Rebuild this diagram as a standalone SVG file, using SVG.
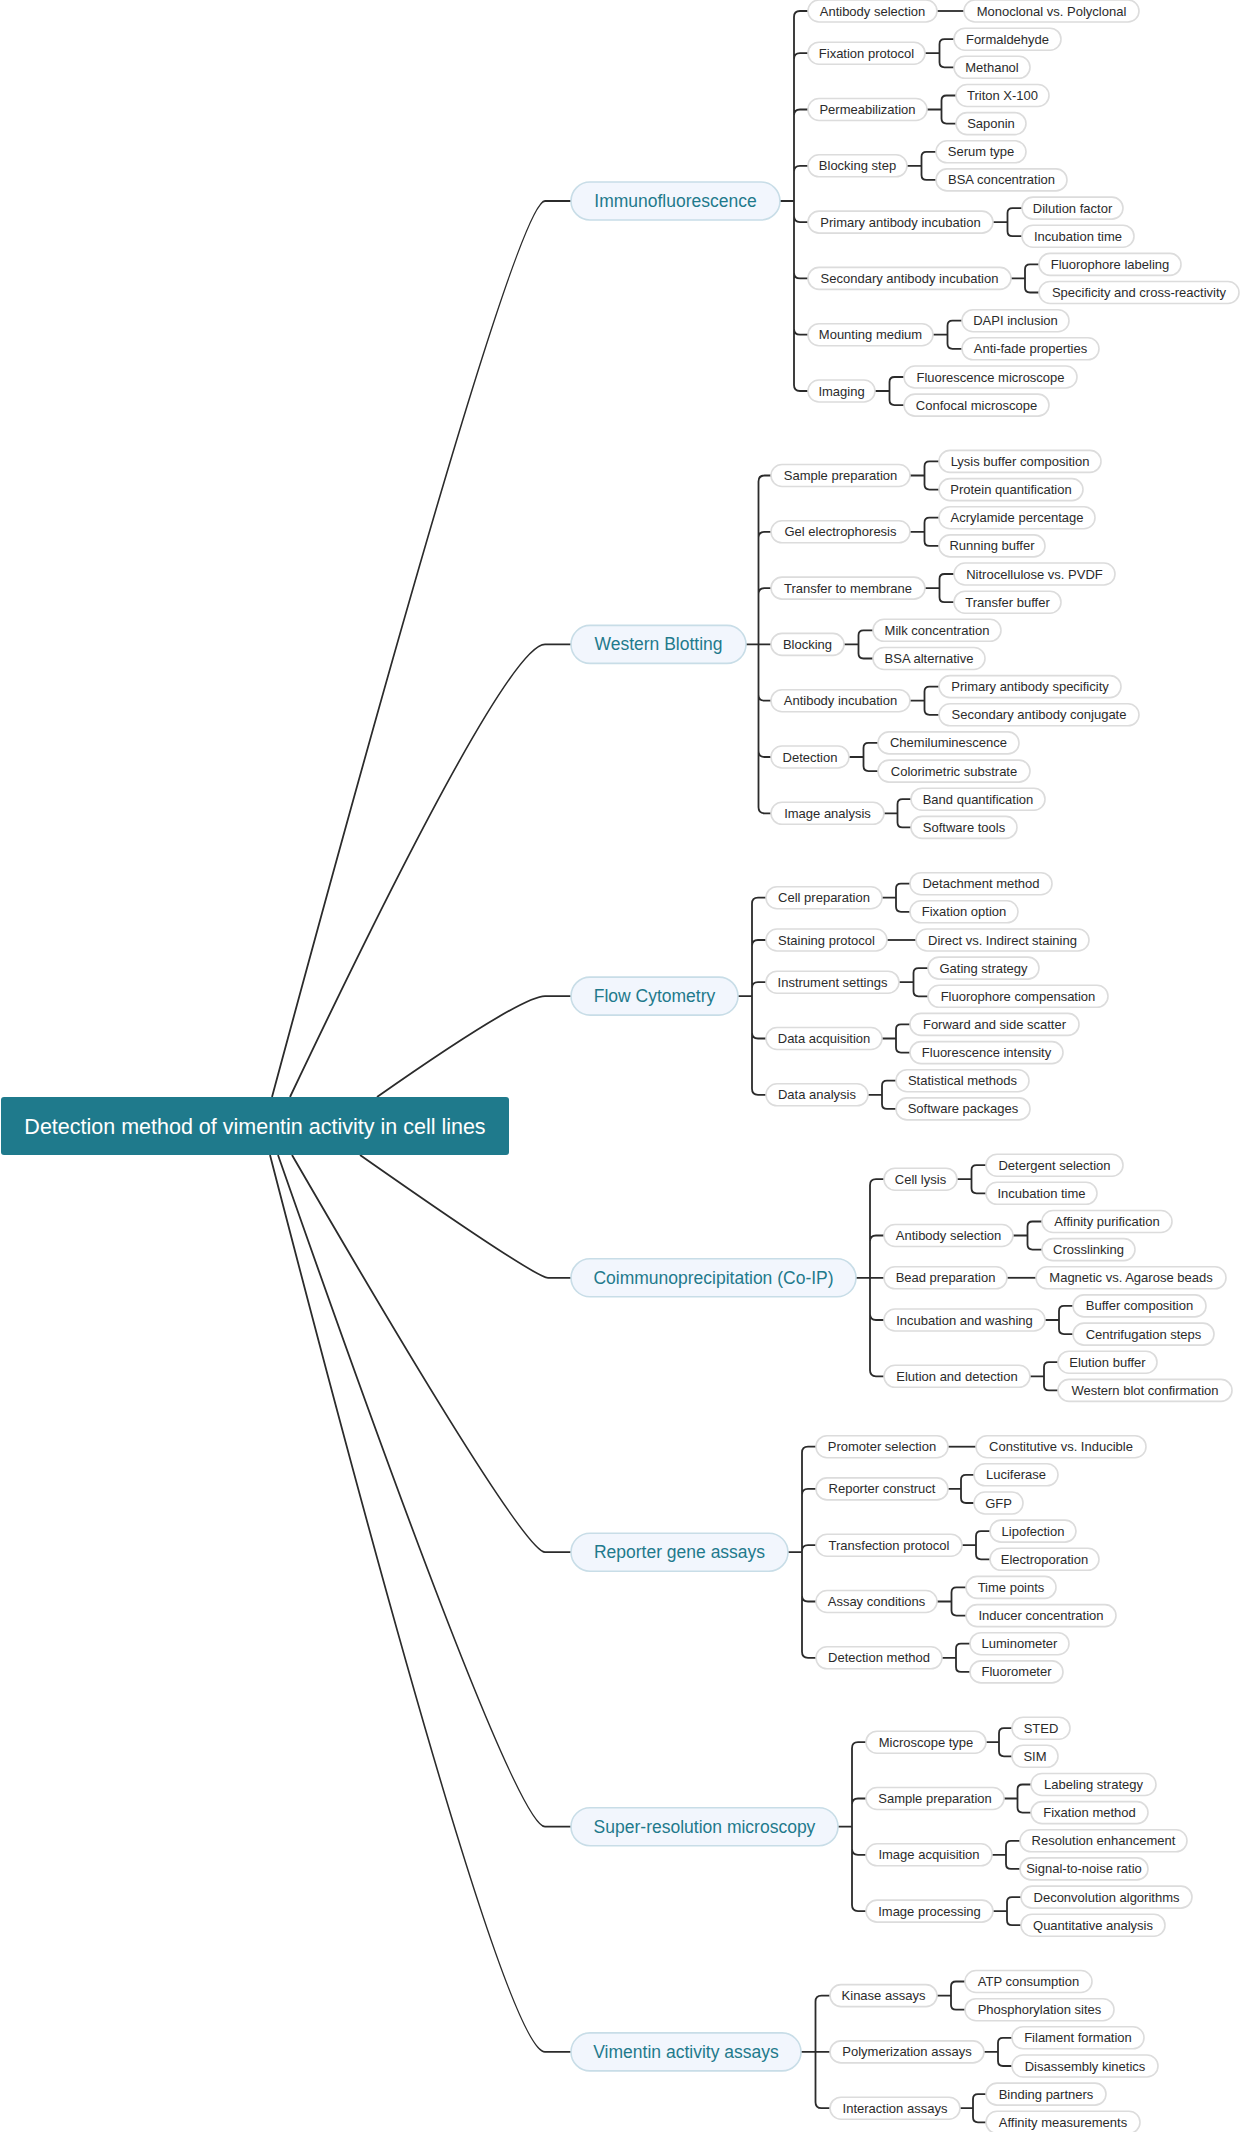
<svg xmlns="http://www.w3.org/2000/svg" width="1240" height="2132" viewBox="0 0 1240 2132">
<style>
text{font-family:"Liberation Sans",Arial,Helvetica,sans-serif;text-anchor:middle}
.c path{fill:none;stroke:#2b2b2b;stroke-width:1.8}
.root rect{fill:#1f7a8c}
.root text{fill:#fff;font-size:21.5px}
.l1 rect{fill:#f2f6fd;stroke:#c8dde7;stroke-width:1.6}
.l1 text{fill:#1f7a8c;font-size:17.5px}
.n rect{fill:#fff;stroke:#dcdcdc;stroke-width:1.6}
.n text{fill:#2b2b2b;font-size:13px}
</style>
<rect width="1240" height="2132" fill="#fff"/>
<g class="c" id="connectors">
<path d="M272,1097 Q514,201 545,201 L571,201"/>
<path d="M290,1097 Q505,644.4 545,644.4 L571,644.4"/>
<path d="M377,1097 Q521,996.1 545,996.1 L571,996.1"/>
<path d="M360,1155 Q535,1277.8 548,1277.8 L571,1277.8"/>
<path d="M292,1155 Q522,1552.2 545,1552.2 L571,1552.2"/>
<path d="M278,1155 Q513,1826.7 545,1826.7 L571,1826.7"/>
<path d="M270,1155 Q502,2051.9 545,2051.9 L571,2051.9"/>
<path d="M780,201H794 M794,201V17Q794,11 800,11H808 M794,201V59.2Q794,53.2 800,53.2H808 M794,201V115.5Q794,109.5 800,109.5H808 M794,201V171.8Q794,165.8 800,165.8H808 M794,201V216.1Q794,222.1 800,222.1H808 M794,201V272.4Q794,278.4 800,278.4H808 M794,201V328.7Q794,334.7 800,334.7H808 M794,201V385Q794,391 800,391H808"/>
<path d="M746,644.4H771 M758.5,644.4V481.5Q758.5,475.5 764.5,475.5H771 M758.5,644.4V537.8Q758.5,531.8 764.5,531.8H771 M758.5,644.4V594.1Q758.5,588.1 764.5,588.1H771 M758.5,644.4V694.7Q758.5,700.7 764.5,700.7H771 M758.5,644.4V751Q758.5,757 764.5,757H771 M758.5,644.4V807.3Q758.5,813.3 764.5,813.3H771"/>
<path d="M738,996.1H752 M752,996.1V903.7Q752,897.7 758,897.7H766 M752,996.1V946Q752,940 758,940H766 M752,996.1V988.2Q752,982.2 758,982.2H766 M752,996.1V1032.5Q752,1038.5 758,1038.5H766 M752,996.1V1088.8Q752,1094.8 758,1094.8H766"/>
<path d="M856,1277.8H884 M870,1277.8V1185.2Q870,1179.2 876,1179.2H884 M870,1277.8V1241.5Q870,1235.5 876,1235.5H884 M870,1277.8V1314Q870,1320 876,1320H884 M870,1277.8V1370.3Q870,1376.3 876,1376.3H884"/>
<path d="M788,1552.2H802 M802,1552.2V1452.7Q802,1446.7 808,1446.7H816 M802,1552.2V1494.9Q802,1488.9 808,1488.9H816 M802,1552.2V1551.2Q802,1545.2 808,1545.2H816 M802,1552.2V1595.5Q802,1601.5 808,1601.5H816 M802,1552.2V1651.8Q802,1657.8 808,1657.8H816"/>
<path d="M838,1826.7H852 M852,1826.7V1748.2Q852,1742.2 858,1742.2H866 M852,1826.7V1804.5Q852,1798.5 858,1798.5H866 M852,1826.7V1848.8Q852,1854.8 858,1854.8H866 M852,1826.7V1905.1Q852,1911.1 858,1911.1H866"/>
<path d="M801,2051.9H830 M815.5,2051.9V2001.6Q815.5,1995.6 821.5,1995.6H830 M815.5,2051.9V2102.2Q815.5,2108.2 821.5,2108.2H830"/>
<path d="M937,11H964"/>
<path d="M925,53.2H939.5 M939.5,53.2V44.2Q939.5,39.2 944.5,39.2H954 M939.5,53.2V62.3Q939.5,67.3 944.5,67.3H954"/>
<path d="M927,109.5H941.5 M941.5,109.5V100.5Q941.5,95.5 946.5,95.5H956 M941.5,109.5V118.6Q941.5,123.6 946.5,123.6H956"/>
<path d="M907,165.8H921.5 M921.5,165.8V156.8Q921.5,151.8 926.5,151.8H936 M921.5,165.8V174.9Q921.5,179.9 926.5,179.9H936"/>
<path d="M993,222.1H1007.5 M1007.5,222.1V213.1Q1007.5,208.1 1012.5,208.1H1022 M1007.5,222.1V231.2Q1007.5,236.2 1012.5,236.2H1022"/>
<path d="M1011,278.4H1025 M1025,278.4V269.4Q1025,264.4 1030,264.4H1039 M1025,278.4V287.5Q1025,292.5 1030,292.5H1039"/>
<path d="M933,334.7H947.5 M947.5,334.7V325.7Q947.5,320.7 952.5,320.7H962 M947.5,334.7V343.8Q947.5,348.8 952.5,348.8H962"/>
<path d="M875,391H889.5 M889.5,391V382Q889.5,377 894.5,377H904 M889.5,391V400.1Q889.5,405.1 894.5,405.1H904"/>
<path d="M910,475.5H924.5 M924.5,475.5V466.4Q924.5,461.4 929.5,461.4H939 M924.5,475.5V484.6Q924.5,489.6 929.5,489.6H939"/>
<path d="M910,531.8H924.5 M924.5,531.8V522.7Q924.5,517.7 929.5,517.7H939 M924.5,531.8V540.9Q924.5,545.9 929.5,545.9H939"/>
<path d="M925,588.1H939.5 M939.5,588.1V579Q939.5,574 944.5,574H954 M939.5,588.1V597.2Q939.5,602.2 944.5,602.2H954"/>
<path d="M844,644.4H858.5 M858.5,644.4V635.3Q858.5,630.3 863.5,630.3H873 M858.5,644.4V653.5Q858.5,658.5 863.5,658.5H873"/>
<path d="M910,700.7H924.5 M924.5,700.7V691.6Q924.5,686.6 929.5,686.6H939 M924.5,700.7V709.8Q924.5,714.8 929.5,714.8H939"/>
<path d="M849,757H863.5 M863.5,757V747.9Q863.5,742.9 868.5,742.9H878 M863.5,757V766.1Q863.5,771.1 868.5,771.1H878"/>
<path d="M884,813.3H897.5 M897.5,813.3V804.2Q897.5,799.2 902.5,799.2H911 M897.5,813.3V822.4Q897.5,827.4 902.5,827.4H911"/>
<path d="M882,897.7H896 M896,897.7V888.7Q896,883.7 901,883.7H910 M896,897.7V906.8Q896,911.8 901,911.8H910"/>
<path d="M887,940H916"/>
<path d="M899,982.2H913.5 M913.5,982.2V973.1Q913.5,968.1 918.5,968.1H928 M913.5,982.2V991.3Q913.5,996.3 918.5,996.3H928"/>
<path d="M882,1038.5H896 M896,1038.5V1029.4Q896,1024.4 901,1024.4H910 M896,1038.5V1047.6Q896,1052.6 901,1052.6H910"/>
<path d="M868,1094.8H882 M882,1094.8V1085.7Q882,1080.7 887,1080.7H896 M882,1094.8V1103.9Q882,1108.9 887,1108.9H896"/>
<path d="M957,1179.2H971.5 M971.5,1179.2V1170.2Q971.5,1165.2 976.5,1165.2H986 M971.5,1179.2V1188.3Q971.5,1193.3 976.5,1193.3H986"/>
<path d="M1013,1235.5H1027.5 M1027.5,1235.5V1226.5Q1027.5,1221.5 1032.5,1221.5H1042 M1027.5,1235.5V1244.6Q1027.5,1249.6 1032.5,1249.6H1042"/>
<path d="M1007,1277.8H1036"/>
<path d="M1045,1320H1059 M1059,1320V1310.9Q1059,1305.9 1064,1305.9H1073 M1059,1320V1329.1Q1059,1334.1 1064,1334.1H1073"/>
<path d="M1030,1376.3H1044 M1044,1376.3V1367.2Q1044,1362.2 1049,1362.2H1058 M1044,1376.3V1385.4Q1044,1390.4 1049,1390.4H1058"/>
<path d="M948,1446.7H976"/>
<path d="M948,1488.9H961 M961,1488.9V1479.8Q961,1474.8 966,1474.8H974 M961,1488.9V1498Q961,1503 966,1503H974"/>
<path d="M962,1545.2H976 M976,1545.2V1536.1Q976,1531.1 981,1531.1H990 M976,1545.2V1554.3Q976,1559.3 981,1559.3H990"/>
<path d="M937,1601.5H951.5 M951.5,1601.5V1592.4Q951.5,1587.4 956.5,1587.4H966 M951.5,1601.5V1610.6Q951.5,1615.6 956.5,1615.6H966"/>
<path d="M942,1657.8H956 M956,1657.8V1648.7Q956,1643.7 961,1643.7H970 M956,1657.8V1666.9Q956,1671.9 961,1671.9H970"/>
<path d="M986,1742.2H999 M999,1742.2V1733.2Q999,1728.2 1004,1728.2H1012 M999,1742.2V1751.3Q999,1756.3 1004,1756.3H1012"/>
<path d="M1004,1798.5H1017.5 M1017.5,1798.5V1789.5Q1017.5,1784.5 1022.5,1784.5H1031 M1017.5,1798.5V1807.6Q1017.5,1812.6 1022.5,1812.6H1031"/>
<path d="M992,1854.8H1006 M1006,1854.8V1845.8Q1006,1840.8 1011,1840.8H1020 M1006,1854.8V1863.9Q1006,1868.9 1011,1868.9H1020"/>
<path d="M993,1911.1H1007 M1007,1911.1V1902.1Q1007,1897.1 1012,1897.1H1021 M1007,1911.1V1920.2Q1007,1925.2 1012,1925.2H1021"/>
<path d="M937,1995.6H951 M951,1995.6V1986.5Q951,1981.5 956,1981.5H965 M951,1995.6V2004.7Q951,2009.7 956,2009.7H965"/>
<path d="M984,2051.9H998 M998,2051.9V2042.8Q998,2037.8 1003,2037.8H1012 M998,2051.9V2061Q998,2066 1003,2066H1012"/>
<path d="M960,2108.2H973 M973,2108.2V2099.1Q973,2094.1 978,2094.1H986 M973,2108.2V2117.3Q973,2122.3 978,2122.3H986"/>
</g>
<g id="root" class="root"><rect x="1" y="1097" width="508" height="58" rx="3"/><text x="255" y="1133.7">Detection method of vimentin activity in cell lines</text></g>
<g id="n-if" class="l1"><rect x="571" y="182" width="209" height="38" rx="19"/><text x="675.5" y="207">Immunofluorescence</text></g>
<g id="n-wb" class="l1"><rect x="571" y="625.4" width="175" height="38" rx="19"/><text x="658.5" y="650.4">Western Blotting</text></g>
<g id="n-fc" class="l1"><rect x="571" y="977.1" width="167" height="38" rx="19"/><text x="654.5" y="1002.1">Flow Cytometry</text></g>
<g id="n-coip" class="l1"><rect x="571" y="1258.8" width="285" height="38" rx="19"/><text x="713.5" y="1283.8">Coimmunoprecipitation (Co-IP)</text></g>
<g id="n-rep" class="l1"><rect x="571" y="1533.2" width="217" height="38" rx="19"/><text x="679.5" y="1558.2">Reporter gene assays</text></g>
<g id="n-sr" class="l1"><rect x="571" y="1807.7" width="267" height="38" rx="19"/><text x="704.5" y="1832.7">Super-resolution microscopy</text></g>
<g id="n-va" class="l1"><rect x="571" y="2032.9" width="230" height="38" rx="19"/><text x="686" y="2057.9">Vimentin activity assays</text></g>

<g id="if-1" class="n"><rect x="808" y="0" width="129" height="22" rx="11"/><text x="872.5" y="15.5">Antibody selection</text></g>
<g id="if-2" class="n"><rect x="808" y="42.2" width="117" height="22" rx="11"/><text x="866.5" y="57.7">Fixation protocol</text></g>
<g id="if-3" class="n"><rect x="808" y="98.5" width="119" height="22" rx="11"/><text x="867.5" y="114">Permeabilization</text></g>
<g id="if-4" class="n"><rect x="808" y="154.8" width="99" height="22" rx="11"/><text x="857.5" y="170.3">Blocking step</text></g>
<g id="if-5" class="n"><rect x="808" y="211.1" width="185" height="22" rx="11"/><text x="900.5" y="226.6">Primary antibody incubation</text></g>
<g id="if-6" class="n"><rect x="808" y="267.4" width="203" height="22" rx="11"/><text x="909.5" y="282.9">Secondary antibody incubation</text></g>
<g id="if-7" class="n"><rect x="808" y="323.7" width="125" height="22" rx="11"/><text x="870.5" y="339.2">Mounting medium</text></g>
<g id="if-8" class="n"><rect x="808" y="380" width="67" height="22" rx="11"/><text x="841.5" y="395.5">Imaging</text></g>
<g id="if-1a" class="n"><rect x="964" y="0" width="175" height="22" rx="11"/><text x="1051.5" y="15.5">Monoclonal vs. Polyclonal</text></g>
<g id="if-2a" class="n"><rect x="954" y="28.2" width="107" height="22" rx="11"/><text x="1007.5" y="43.7">Formaldehyde</text></g>
<g id="if-2b" class="n"><rect x="954" y="56.3" width="76" height="22" rx="11"/><text x="992" y="71.8">Methanol</text></g>
<g id="if-3a" class="n"><rect x="956" y="84.5" width="93" height="22" rx="11"/><text x="1002.5" y="100">Triton X-100</text></g>
<g id="if-3b" class="n"><rect x="956" y="112.6" width="70" height="22" rx="11"/><text x="991" y="128.1">Saponin</text></g>
<g id="if-4a" class="n"><rect x="936" y="140.8" width="90" height="22" rx="11"/><text x="981" y="156.3">Serum type</text></g>
<g id="if-4b" class="n"><rect x="936" y="168.9" width="131" height="22" rx="11"/><text x="1001.5" y="184.4">BSA concentration</text></g>
<g id="if-5a" class="n"><rect x="1022" y="197.1" width="101" height="22" rx="11"/><text x="1072.5" y="212.6">Dilution factor</text></g>
<g id="if-5b" class="n"><rect x="1022" y="225.2" width="112" height="22" rx="11"/><text x="1078" y="240.7">Incubation time</text></g>
<g id="if-6a" class="n"><rect x="1039" y="253.4" width="142" height="22" rx="11"/><text x="1110" y="268.9">Fluorophore labeling</text></g>
<g id="if-6b" class="n"><rect x="1039" y="281.5" width="200" height="22" rx="11"/><text x="1139" y="297">Specificity and cross-reactivity</text></g>
<g id="if-7a" class="n"><rect x="962" y="309.7" width="107" height="22" rx="11"/><text x="1015.5" y="325.2">DAPI inclusion</text></g>
<g id="if-7b" class="n"><rect x="962" y="337.8" width="137" height="22" rx="11"/><text x="1030.5" y="353.3">Anti-fade properties</text></g>
<g id="if-8a" class="n"><rect x="904" y="366" width="173" height="22" rx="11"/><text x="990.5" y="381.5">Fluorescence microscope</text></g>
<g id="if-8b" class="n"><rect x="904" y="394.1" width="145" height="22" rx="11"/><text x="976.5" y="409.6">Confocal microscope</text></g>

<g id="wb-1" class="n"><rect x="771" y="464.5" width="139" height="22" rx="11"/><text x="840.5" y="480">Sample preparation</text></g>
<g id="wb-2" class="n"><rect x="771" y="520.8" width="139" height="22" rx="11"/><text x="840.5" y="536.3">Gel electrophoresis</text></g>
<g id="wb-3" class="n"><rect x="771" y="577.1" width="154" height="22" rx="11"/><text x="848" y="592.6">Transfer to membrane</text></g>
<g id="wb-4" class="n"><rect x="771" y="633.4" width="73" height="22" rx="11"/><text x="807.5" y="648.9">Blocking</text></g>
<g id="wb-5" class="n"><rect x="771" y="689.7" width="139" height="22" rx="11"/><text x="840.5" y="705.2">Antibody incubation</text></g>
<g id="wb-6" class="n"><rect x="771" y="746" width="78" height="22" rx="11"/><text x="810" y="761.5">Detection</text></g>
<g id="wb-7" class="n"><rect x="771" y="802.3" width="113" height="22" rx="11"/><text x="827.5" y="817.8">Image analysis</text></g>
<g id="wb-1a" class="n"><rect x="939" y="450.4" width="162" height="22" rx="11"/><text x="1020" y="465.9">Lysis buffer composition</text></g>
<g id="wb-1b" class="n"><rect x="939" y="478.6" width="144" height="22" rx="11"/><text x="1011" y="494.1">Protein quantification</text></g>
<g id="wb-2a" class="n"><rect x="939" y="506.7" width="156" height="22" rx="11"/><text x="1017" y="522.2">Acrylamide percentage</text></g>
<g id="wb-2b" class="n"><rect x="939" y="534.9" width="106" height="22" rx="11"/><text x="992" y="550.4">Running buffer</text></g>
<g id="wb-3a" class="n"><rect x="954" y="563" width="161" height="22" rx="11"/><text x="1034.5" y="578.5">Nitrocellulose vs. PVDF</text></g>
<g id="wb-3b" class="n"><rect x="954" y="591.2" width="107" height="22" rx="11"/><text x="1007.5" y="606.7">Transfer buffer</text></g>
<g id="wb-4a" class="n"><rect x="873" y="619.3" width="128" height="22" rx="11"/><text x="937" y="634.8">Milk concentration</text></g>
<g id="wb-4b" class="n"><rect x="873" y="647.5" width="112" height="22" rx="11"/><text x="929" y="663">BSA alternative</text></g>
<g id="wb-5a" class="n"><rect x="939" y="675.6" width="182" height="22" rx="11"/><text x="1030" y="691.1">Primary antibody specificity</text></g>
<g id="wb-5b" class="n"><rect x="939" y="703.8" width="200" height="22" rx="11"/><text x="1039" y="719.3">Secondary antibody conjugate</text></g>
<g id="wb-6a" class="n"><rect x="878" y="731.9" width="141" height="22" rx="11"/><text x="948.5" y="747.4">Chemiluminescence</text></g>
<g id="wb-6b" class="n"><rect x="878" y="760.1" width="152" height="22" rx="11"/><text x="954" y="775.6">Colorimetric substrate</text></g>
<g id="wb-7a" class="n"><rect x="911" y="788.2" width="134" height="22" rx="11"/><text x="978" y="803.7">Band quantification</text></g>
<g id="wb-7b" class="n"><rect x="911" y="816.4" width="106" height="22" rx="11"/><text x="964" y="831.9">Software tools</text></g>

<g id="fc-1" class="n"><rect x="766" y="886.7" width="116" height="22" rx="11"/><text x="824" y="902.2">Cell preparation</text></g>
<g id="fc-2" class="n"><rect x="766" y="929" width="121" height="22" rx="11"/><text x="826.5" y="944.5">Staining protocol</text></g>
<g id="fc-3" class="n"><rect x="766" y="971.2" width="133" height="22" rx="11"/><text x="832.5" y="986.7">Instrument settings</text></g>
<g id="fc-4" class="n"><rect x="766" y="1027.5" width="116" height="22" rx="11"/><text x="824" y="1043">Data acquisition</text></g>
<g id="fc-5" class="n"><rect x="766" y="1083.8" width="102" height="22" rx="11"/><text x="817" y="1099.3">Data analysis</text></g>
<g id="fc-1a" class="n"><rect x="910" y="872.7" width="142" height="22" rx="11"/><text x="981" y="888.2">Detachment method</text></g>
<g id="fc-1b" class="n"><rect x="910" y="900.8" width="108" height="22" rx="11"/><text x="964" y="916.3">Fixation option</text></g>
<g id="fc-2a" class="n"><rect x="916" y="929" width="173" height="22" rx="11"/><text x="1002.5" y="944.5">Direct vs. Indirect staining</text></g>
<g id="fc-3a" class="n"><rect x="928" y="957.1" width="111" height="22" rx="11"/><text x="983.5" y="972.6">Gating strategy</text></g>
<g id="fc-3b" class="n"><rect x="928" y="985.3" width="180" height="22" rx="11"/><text x="1018" y="1000.8">Fluorophore compensation</text></g>
<g id="fc-4a" class="n"><rect x="910" y="1013.4" width="169" height="22" rx="11"/><text x="994.5" y="1028.9">Forward and side scatter</text></g>
<g id="fc-4b" class="n"><rect x="910" y="1041.6" width="153" height="22" rx="11"/><text x="986.5" y="1057.1">Fluorescence intensity</text></g>
<g id="fc-5a" class="n"><rect x="896" y="1069.7" width="133" height="22" rx="11"/><text x="962.5" y="1085.2">Statistical methods</text></g>
<g id="fc-5b" class="n"><rect x="896" y="1097.9" width="134" height="22" rx="11"/><text x="963" y="1113.4">Software packages</text></g>

<g id="co-1" class="n"><rect x="884" y="1168.2" width="73" height="22" rx="11"/><text x="920.5" y="1183.7">Cell lysis</text></g>
<g id="co-2" class="n"><rect x="884" y="1224.5" width="129" height="22" rx="11"/><text x="948.5" y="1240">Antibody selection</text></g>
<g id="co-3" class="n"><rect x="884" y="1266.8" width="123" height="22" rx="11"/><text x="945.5" y="1282.3">Bead preparation</text></g>
<g id="co-4" class="n"><rect x="884" y="1309" width="161" height="22" rx="11"/><text x="964.5" y="1324.5">Incubation and washing</text></g>
<g id="co-5" class="n"><rect x="884" y="1365.3" width="146" height="22" rx="11"/><text x="957" y="1380.8">Elution and detection</text></g>
<g id="co-1a" class="n"><rect x="986" y="1154.2" width="137" height="22" rx="11"/><text x="1054.5" y="1169.7">Detergent selection</text></g>
<g id="co-1b" class="n"><rect x="986" y="1182.3" width="111" height="22" rx="11"/><text x="1041.5" y="1197.8">Incubation time</text></g>
<g id="co-2a" class="n"><rect x="1042" y="1210.5" width="130" height="22" rx="11"/><text x="1107" y="1226">Affinity purification</text></g>
<g id="co-2b" class="n"><rect x="1042" y="1238.6" width="93" height="22" rx="11"/><text x="1088.5" y="1254.1">Crosslinking</text></g>
<g id="co-3a" class="n"><rect x="1036" y="1266.8" width="190" height="22" rx="11"/><text x="1131" y="1282.3">Magnetic vs. Agarose beads</text></g>
<g id="co-4a" class="n"><rect x="1073" y="1294.9" width="133" height="22" rx="11"/><text x="1139.5" y="1310.4">Buffer composition</text></g>
<g id="co-4b" class="n"><rect x="1073" y="1323.1" width="141" height="22" rx="11"/><text x="1143.5" y="1338.6">Centrifugation steps</text></g>
<g id="co-5a" class="n"><rect x="1058" y="1351.2" width="99" height="22" rx="11"/><text x="1107.5" y="1366.7">Elution buffer</text></g>
<g id="co-5b" class="n"><rect x="1058" y="1379.4" width="174" height="22" rx="11"/><text x="1145" y="1394.9">Western blot confirmation</text></g>

<g id="rg-1" class="n"><rect x="816" y="1435.7" width="132" height="22" rx="11"/><text x="882" y="1451.2">Promoter selection</text></g>
<g id="rg-2" class="n"><rect x="816" y="1477.9" width="132" height="22" rx="11"/><text x="882" y="1493.4">Reporter construct</text></g>
<g id="rg-3" class="n"><rect x="816" y="1534.2" width="146" height="22" rx="11"/><text x="889" y="1549.7">Transfection protocol</text></g>
<g id="rg-4" class="n"><rect x="816" y="1590.5" width="121" height="22" rx="11"/><text x="876.5" y="1606">Assay conditions</text></g>
<g id="rg-5" class="n"><rect x="816" y="1646.8" width="126" height="22" rx="11"/><text x="879" y="1662.3">Detection method</text></g>
<g id="rg-1a" class="n"><rect x="976" y="1435.7" width="170" height="22" rx="11"/><text x="1061" y="1451.2">Constitutive vs. Inducible</text></g>
<g id="rg-2a" class="n"><rect x="974" y="1463.8" width="84" height="22" rx="11"/><text x="1016" y="1479.3">Luciferase</text></g>
<g id="rg-2b" class="n"><rect x="974" y="1492" width="49" height="22" rx="11"/><text x="998.5" y="1507.5">GFP</text></g>
<g id="rg-3a" class="n"><rect x="990" y="1520.1" width="86" height="22" rx="11"/><text x="1033" y="1535.6">Lipofection</text></g>
<g id="rg-3b" class="n"><rect x="990" y="1548.3" width="109" height="22" rx="11"/><text x="1044.5" y="1563.8">Electroporation</text></g>
<g id="rg-4a" class="n"><rect x="966" y="1576.4" width="90" height="22" rx="11"/><text x="1011" y="1591.9">Time points</text></g>
<g id="rg-4b" class="n"><rect x="966" y="1604.6" width="150" height="22" rx="11"/><text x="1041" y="1620.1">Inducer concentration</text></g>
<g id="rg-5a" class="n"><rect x="970" y="1632.7" width="99" height="22" rx="11"/><text x="1019.5" y="1648.2">Luminometer</text></g>
<g id="rg-5b" class="n"><rect x="970" y="1660.9" width="93" height="22" rx="11"/><text x="1016.5" y="1676.4">Fluorometer</text></g>

<g id="sr-1" class="n"><rect x="866" y="1731.2" width="120" height="22" rx="11"/><text x="926" y="1746.7">Microscope type</text></g>
<g id="sr-2" class="n"><rect x="866" y="1787.5" width="138" height="22" rx="11"/><text x="935" y="1803">Sample preparation</text></g>
<g id="sr-3" class="n"><rect x="866" y="1843.8" width="126" height="22" rx="11"/><text x="929" y="1859.3">Image acquisition</text></g>
<g id="sr-4" class="n"><rect x="866" y="1900.1" width="127" height="22" rx="11"/><text x="929.5" y="1915.6">Image processing</text></g>
<g id="sr-1a" class="n"><rect x="1012" y="1717.2" width="58" height="22" rx="11"/><text x="1041" y="1732.7">STED</text></g>
<g id="sr-1b" class="n"><rect x="1012" y="1745.3" width="46" height="22" rx="11"/><text x="1035" y="1760.8">SIM</text></g>
<g id="sr-2a" class="n"><rect x="1031" y="1773.5" width="125" height="22" rx="11"/><text x="1093.5" y="1789">Labeling strategy</text></g>
<g id="sr-2b" class="n"><rect x="1031" y="1801.6" width="117" height="22" rx="11"/><text x="1089.5" y="1817.1">Fixation method</text></g>
<g id="sr-3a" class="n"><rect x="1020" y="1829.8" width="167" height="22" rx="11"/><text x="1103.5" y="1845.3">Resolution enhancement</text></g>
<g id="sr-3b" class="n"><rect x="1020" y="1857.9" width="128" height="22" rx="11"/><text x="1084" y="1873.4">Signal-to-noise ratio</text></g>
<g id="sr-4a" class="n"><rect x="1021" y="1886.1" width="171" height="22" rx="11"/><text x="1106.5" y="1901.6">Deconvolution algorithms</text></g>
<g id="sr-4b" class="n"><rect x="1021" y="1914.2" width="144" height="22" rx="11"/><text x="1093" y="1929.7">Quantitative analysis</text></g>

<g id="va-1" class="n"><rect x="830" y="1984.6" width="107" height="22" rx="11"/><text x="883.5" y="2000.1">Kinase assays</text></g>
<g id="va-2" class="n"><rect x="830" y="2040.9" width="154" height="22" rx="11"/><text x="907" y="2056.4">Polymerization assays</text></g>
<g id="va-3" class="n"><rect x="830" y="2097.2" width="130" height="22" rx="11"/><text x="895" y="2112.7">Interaction assays</text></g>
<g id="va-1a" class="n"><rect x="965" y="1970.5" width="127" height="22" rx="11"/><text x="1028.5" y="1986">ATP consumption</text></g>
<g id="va-1b" class="n"><rect x="965" y="1998.7" width="149" height="22" rx="11"/><text x="1039.5" y="2014.2">Phosphorylation sites</text></g>
<g id="va-2a" class="n"><rect x="1012" y="2026.8" width="132" height="22" rx="11"/><text x="1078" y="2042.3">Filament formation</text></g>
<g id="va-2b" class="n"><rect x="1012" y="2055" width="146" height="22" rx="11"/><text x="1085" y="2070.5">Disassembly kinetics</text></g>
<g id="va-3a" class="n"><rect x="986" y="2083.1" width="120" height="22" rx="11"/><text x="1046" y="2098.6">Binding partners</text></g>
<g id="va-3b" class="n"><rect x="986" y="2111.3" width="154" height="22" rx="11"/><text x="1063" y="2126.8">Affinity measurements</text></g>
</svg>
